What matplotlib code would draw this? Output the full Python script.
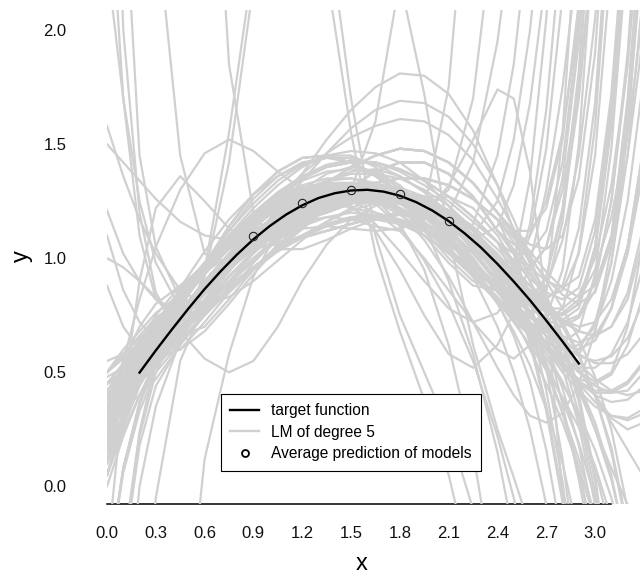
"""
plot.py

Bias/variance illustration: degree-5 linear models fitted to noisy samples
of a target function, drawn in light grey, with the target in black and the
average prediction of the models at a few x positions.
"""
import matplotlib
matplotlib.use('Agg')
import matplotlib.pyplot as plt
from matplotlib.lines import Line2D

plt.rcParams['font.family'] = ['Liberation Sans', 'DejaVu Sans']

x_grid = [0.00, 0.10, 0.20, 0.30, 0.45, 0.60, 0.75, 0.90, 1.05, 1.20, 1.35, 1.50, 1.65,
          1.80, 1.95, 2.10, 2.25, 2.40, 2.50, 2.60, 2.70, 2.80, 2.90, 3.00, 3.10, 3.20, 3.30]

# fitted models (LM of degree 5), one list per model, values at x_grid
lm_01 = [0.30, 0.40, 0.50, 0.60, 0.73, 0.86, 0.98, 1.08, 1.17, 1.23, 1.28, 1.30, 1.30, 1.27, 1.23, 1.16, 1.08, 0.98, 0.90, 0.84, 0.82, 0.88, 1.13, 1.68, 2.68, 4.18, 5.98]
lm_02 = [0.05, 0.28, 0.48, 0.64, 0.80, 0.95, 1.08, 1.19, 1.28, 1.35, 1.40, 1.42, 1.42, 1.39, 1.34, 1.27, 1.18, 1.07, 0.97, 0.85, 0.71, 0.52, 0.27, -0.08, -0.63, -1.43, -2.43]
lm_03 = [0.45, 0.49, 0.54, 0.59, 0.64, 0.76, 0.87, 0.96, 1.04, 1.10, 1.15, 1.18, 1.18, 1.16, 1.12, 1.06, 0.98, 0.88, 0.80, 0.72, 0.66, 0.63, 0.68, 0.93, 1.48, 2.38, 3.88]
lm_04 = [0.15, 0.38, 0.56, 0.70, 0.80, 0.95, 1.08, 1.18, 1.26, 1.31, 1.33, 1.32, 1.28, 1.22, 1.14, 1.04, 0.93, 0.81, 0.66, 0.46, 0.16, -0.24, -0.79, -1.59, -2.59, -3.79, -5.19]
lm_05 = [-0.40, 0.08, 0.36, 0.53, 0.66, 0.78, 0.89, 0.99, 1.08, 1.16, 1.23, 1.29, 1.33, 1.35, 1.35, 1.32, 1.26, 1.17, 1.12, 1.12, 1.22, 1.52, 2.12, 3.17, 4.67, 6.67, 9.17]
lm_06 = [0.50, 0.60, 0.68, 0.76, 0.84, 0.98, 1.08, 1.13, 1.15, 1.17, 1.20, 1.24, 1.27, 1.28, 1.26, 1.21, 1.12, 1.00, 0.91, 0.82, 0.73, 0.65, 0.58, 0.54, 0.54, 0.58, 0.67]
lm_07 = [0.22, 0.40, 0.55, 0.67, 0.78, 0.97, 1.14, 1.28, 1.38, 1.44, 1.45, 1.42, 1.36, 1.28, 1.19, 1.09, 0.98, 0.87, 0.77, 0.65, 0.51, 0.32, 0.07, -0.28, -0.83, -1.63, -2.63]
lm_08 = [0.30, 0.42, 0.52, 0.61, 0.70, 0.80, 0.88, 0.96, 1.04, 1.13, 1.22, 1.31, 1.38, 1.42, 1.42, 1.37, 1.27, 1.12, 1.06, 1.10, 1.25, 1.55, 2.05, 2.80, 3.80, 5.10, 6.70]
lm_09 = [0.05, 0.30, 0.50, 0.64, 0.76, 0.90, 0.99, 1.04, 1.07, 1.09, 1.12, 1.15, 1.18, 1.20, 1.20, 1.17, 1.10, 1.00, 0.91, 0.81, 0.70, 0.58, 0.45, 0.28, 0.05, -0.30, -0.80]
lm_10 = [0.45, 0.50, 0.56, 0.62, 0.68, 0.80, 0.92, 1.03, 1.14, 1.24, 1.33, 1.40, 1.45, 1.48, 1.47, 1.42, 1.33, 1.20, 1.12, 1.03, 0.94, 0.87, 0.83, 0.88, 1.10, 1.70, 2.60]
lm_11 = [-1.20, -0.30, 0.22, 0.50, 0.72, 0.85, 0.97, 1.07, 1.16, 1.23, 1.28, 1.31, 1.31, 1.29, 1.25, 1.18, 1.09, 0.98, 0.83, 0.63, 0.33, -0.07, -0.62, -1.42, -2.42, -3.62, -5.02]
lm_12 = [0.15, 0.38, 0.56, 0.70, 0.81, 0.96, 1.09, 1.20, 1.29, 1.36, 1.41, 1.43, 1.42, 1.38, 1.32, 1.25, 1.16, 1.07, 0.99, 0.91, 0.85, 0.82, 0.87, 1.12, 1.67, 2.57, 4.07]
lm_13 = [-0.40, 0.06, 0.33, 0.50, 0.63, 0.75, 0.86, 0.95, 1.03, 1.09, 1.14, 1.17, 1.18, 1.17, 1.13, 1.07, 0.98, 0.88, 0.78, 0.66, 0.52, 0.33, 0.08, -0.27, -0.82, -1.62, -2.62]
lm_14 = [0.50, 0.58, 0.66, 0.74, 0.81, 0.95, 1.07, 1.17, 1.25, 1.30, 1.33, 1.33, 1.30, 1.24, 1.16, 1.05, 0.93, 0.81, 0.76, 0.76, 0.86, 1.16, 1.76, 2.81, 4.31, 6.31, 8.81]
lm_15 = [0.22, 0.35, 0.46, 0.56, 0.66, 0.78, 0.89, 0.99, 1.08, 1.16, 1.23, 1.29, 1.33, 1.35, 1.35, 1.32, 1.26, 1.17, 1.02, 0.82, 0.52, 0.12, -0.43, -1.23, -2.23, -3.43, -4.83]
lm_16 = [0.30, 0.45, 0.60, 0.72, 0.82, 0.97, 1.07, 1.12, 1.15, 1.18, 1.21, 1.25, 1.28, 1.29, 1.27, 1.21, 1.12, 1.00, 0.94, 0.96, 1.05, 1.30, 1.75, 2.45, 3.40, 4.60, 6.00]
lm_17 = [0.05, 0.30, 0.50, 0.65, 0.78, 0.97, 1.14, 1.28, 1.38, 1.44, 1.45, 1.42, 1.36, 1.28, 1.19, 1.09, 0.98, 0.87, 0.78, 0.69, 0.60, 0.52, 0.45, 0.41, 0.41, 0.45, 0.54]
lm_18 = [0.45, 0.50, 0.57, 0.63, 0.70, 0.80, 0.88, 0.96, 1.04, 1.13, 1.22, 1.31, 1.38, 1.42, 1.42, 1.37, 1.27, 1.12, 1.03, 0.93, 0.82, 0.70, 0.57, 0.40, 0.17, -0.18, -0.68]
lm_19 = [0.15, 0.37, 0.54, 0.66, 0.76, 0.90, 0.99, 1.04, 1.07, 1.09, 1.12, 1.15, 1.18, 1.20, 1.20, 1.17, 1.10, 1.00, 0.95, 0.95, 1.05, 1.35, 1.95, 3.00, 4.50, 6.50, 9.00]
lm_20 = [-0.40, 0.08, 0.36, 0.54, 0.68, 0.80, 0.92, 1.03, 1.14, 1.24, 1.33, 1.40, 1.45, 1.48, 1.47, 1.42, 1.33, 1.20, 1.10, 0.98, 0.84, 0.65, 0.40, 0.05, -0.50, -1.30, -2.30]
lm_21 = [0.50, 0.57, 0.63, 0.68, 0.74, 0.87, 0.99, 1.09, 1.18, 1.24, 1.29, 1.31, 1.31, 1.28, 1.24, 1.17, 1.09, 0.98, 0.90, 0.82, 0.76, 0.73, 0.78, 1.03, 1.58, 2.48, 3.98]
lm_22 = [0.22, 0.40, 0.56, 0.69, 0.80, 0.95, 1.08, 1.19, 1.28, 1.35, 1.40, 1.42, 1.42, 1.39, 1.34, 1.27, 1.18, 1.07, 0.92, 0.72, 0.42, 0.02, -0.53, -1.33, -2.33, -3.53, -4.93]
lm_23 = [-1.20, -0.32, 0.18, 0.44, 0.62, 0.75, 0.86, 0.96, 1.04, 1.10, 1.15, 1.18, 1.19, 1.17, 1.13, 1.07, 0.99, 0.88, 0.80, 0.74, 0.72, 0.78, 1.03, 1.58, 2.58, 4.08, 5.88]
lm_24 = [0.30, 0.46, 0.60, 0.71, 0.80, 0.94, 1.07, 1.17, 1.25, 1.30, 1.32, 1.31, 1.27, 1.21, 1.13, 1.03, 0.92, 0.81, 0.72, 0.62, 0.51, 0.39, 0.26, 0.09, -0.14, -0.49, -0.99]
lm_25 = [0.05, 0.26, 0.44, 0.56, 0.66, 0.78, 0.89, 0.99, 1.08, 1.16, 1.23, 1.29, 1.33, 1.35, 1.35, 1.32, 1.26, 1.17, 1.09, 1.00, 0.91, 0.84, 0.80, 0.85, 1.07, 1.67, 2.57]
lm_26 = [0.45, 0.54, 0.64, 0.73, 0.82, 0.98, 1.08, 1.13, 1.15, 1.17, 1.20, 1.24, 1.27, 1.28, 1.26, 1.21, 1.12, 1.00, 0.85, 0.65, 0.35, -0.05, -0.60, -1.40, -2.40, -3.60, -5.00]
lm_27 = [0.15, 0.37, 0.55, 0.67, 0.78, 0.96, 1.12, 1.26, 1.36, 1.42, 1.44, 1.42, 1.37, 1.29, 1.20, 1.10, 0.99, 0.87, 0.80, 0.80, 0.88, 1.08, 1.45, 2.05, 2.90, 4.00, 5.50]
lm_28 = [-0.40, 0.08, 0.37, 0.56, 0.70, 0.80, 0.88, 0.96, 1.04, 1.13, 1.22, 1.31, 1.38, 1.42, 1.42, 1.37, 1.27, 1.12, 1.02, 0.90, 0.76, 0.57, 0.32, -0.03, -0.58, -1.38, -2.38]
lm_29 = [0.50, 0.58, 0.65, 0.71, 0.76, 0.90, 0.99, 1.04, 1.07, 1.09, 1.12, 1.15, 1.18, 1.20, 1.20, 1.17, 1.10, 1.00, 0.92, 0.84, 0.78, 0.75, 0.80, 1.05, 1.60, 2.50, 4.00]
lm_30 = [0.22, 0.36, 0.48, 0.58, 0.68, 0.80, 0.92, 1.03, 1.14, 1.24, 1.33, 1.40, 1.45, 1.48, 1.47, 1.42, 1.33, 1.20, 1.11, 1.01, 0.90, 0.78, 0.65, 0.48, 0.25, -0.10, -0.60]
lm_31 = [0.30, 0.46, 0.60, 0.71, 0.80, 0.95, 1.08, 1.19, 1.28, 1.35, 1.40, 1.42, 1.42, 1.39, 1.34, 1.27, 1.18, 1.07, 1.02, 1.02, 1.12, 1.42, 2.02, 3.07, 4.57, 6.57, 9.07]
lm_32 = [0.05, 0.24, 0.40, 0.53, 0.64, 0.76, 0.87, 0.96, 1.04, 1.10, 1.15, 1.18, 1.18, 1.16, 1.12, 1.06, 0.98, 0.88, 0.79, 0.70, 0.61, 0.53, 0.46, 0.42, 0.42, 0.46, 0.55]
lm_33 = [0.45, 0.53, 0.63, 0.72, 0.80, 0.95, 1.08, 1.18, 1.26, 1.31, 1.33, 1.32, 1.28, 1.22, 1.14, 1.04, 0.93, 0.81, 0.78, 0.80, 0.92, 1.20, 1.70, 2.45, 3.50, 4.90, 6.60]
lm_34 = [0.15, 0.32, 0.47, 0.57, 0.66, 0.78, 0.89, 0.99, 1.08, 1.16, 1.23, 1.29, 1.33, 1.35, 1.35, 1.32, 1.26, 1.17, 1.07, 0.95, 0.81, 0.62, 0.37, 0.02, -0.53, -1.33, -2.33]
lm_35 = [0.22, 0.42, 0.59, 0.72, 0.82, 0.98, 1.08, 1.13, 1.15, 1.17, 1.20, 1.24, 1.27, 1.28, 1.26, 1.21, 1.12, 1.00, 0.92, 0.84, 0.78, 0.75, 0.80, 1.05, 1.60, 2.50, 4.00]
lm_36 = [-1.20, -0.28, 0.24, 0.55, 0.78, 0.97, 1.14, 1.28, 1.38, 1.44, 1.45, 1.42, 1.36, 1.28, 1.19, 1.09, 0.98, 0.87, 0.82, 0.82, 0.92, 1.22, 1.82, 2.87, 4.37, 6.37, 8.87]
lm_37 = [0.30, 0.44, 0.57, 0.67, 0.76, 0.90, 0.99, 1.04, 1.07, 1.09, 1.12, 1.15, 1.18, 1.20, 1.20, 1.17, 1.10, 1.00, 0.85, 0.65, 0.35, -0.05, -0.60, -1.40, -2.40, -3.60, -5.00]
lm_38 = [0.50, 0.56, 0.61, 0.65, 0.68, 0.80, 0.92, 1.03, 1.14, 1.24, 1.33, 1.40, 1.45, 1.48, 1.47, 1.42, 1.33, 1.20, 1.12, 1.06, 1.04, 1.10, 1.35, 1.90, 2.90, 4.40, 6.20]
lm_39 = [0.45, 0.50, 0.57, 0.65, 0.73, 0.86, 0.98, 1.08, 1.17, 1.23, 1.28, 1.30, 1.30, 1.27, 1.23, 1.16, 1.08, 0.98, 0.88, 0.76, 0.62, 0.43, 0.18, -0.17, -0.72, -1.52, -2.52]
lm_40 = [0.05, 0.27, 0.45, 0.60, 0.70, 0.80, 0.88, 0.96, 1.04, 1.13, 1.22, 1.31, 1.38, 1.42, 1.42, 1.37, 1.27, 1.12, 1.04, 0.96, 0.90, 0.87, 0.92, 1.17, 1.72, 2.62, 4.12]
lm_41 = [0.35, 0.55, 0.70, 0.80, 0.88, 0.94, 1.01, 1.10, 1.20, 1.30, 1.37, 1.40, 1.38, 1.32, 1.22, 1.12, 1.03, 0.96, 0.92, 0.88, 0.82, 0.72, 0.58, 0.40, 0.15, -0.20, -0.65]
lm_42 = [0.10, 0.30, 0.48, 0.62, 0.80, 0.96, 1.10, 1.20, 1.26, 1.28, 1.27, 1.25, 1.24, 1.25, 1.27, 1.27, 1.22, 1.10, 0.98, 0.84, 0.70, 0.60, 0.58, 0.68, 0.98, 1.55, 2.50]
lm_43 = [0.26, 0.38, 0.50, 0.61, 0.76, 0.90, 1.02, 1.13, 1.22, 1.29, 1.34, 1.37, 1.37, 1.35, 1.30, 1.23, 1.13, 1.01, 0.92, 0.83, 0.76, 0.72, 0.75, 0.90, 1.25, 1.90, 2.90]
lm_44 = [0.40, 0.47, 0.55, 0.63, 0.75, 0.86, 0.96, 1.04, 1.11, 1.17, 1.21, 1.24, 1.25, 1.24, 1.20, 1.14, 1.05, 0.94, 0.85, 0.76, 0.66, 0.55, 0.42, 0.25, 0.03, -0.28, -0.70]
lm_45 = [0.28, 0.42, 0.55, 0.66, 0.80, 0.93, 1.05, 1.15, 1.23, 1.29, 1.32, 1.32, 1.29, 1.22, 1.12, 1.00, 0.90, 0.86, 0.92, 1.10, 1.48, 2.15, 3.10, 4.40, 6.00, 8.00, 10.5]
lm_46 = [0.35, 0.48, 0.60, 0.70, 0.83, 0.95, 1.06, 1.15, 1.22, 1.27, 1.30, 1.30, 1.27, 1.20, 1.10, 0.98, 0.88, 0.86, 0.98, 1.35, 2.05, 3.10, 4.50, 6.20, 8.30, 11.0, 14.0]
lm_47 = [0.20, 0.36, 0.50, 0.62, 0.77, 0.90, 1.02, 1.12, 1.19, 1.24, 1.26, 1.25, 1.20, 1.12, 1.00, 0.86, 0.72, 0.60, 0.56, 0.62, 0.85, 1.55, 2.60, 4.00, 6.00, 8.50, 11.5]
lm_48 = [0.42, 0.52, 0.62, 0.71, 0.84, 0.96, 1.07, 1.16, 1.24, 1.30, 1.34, 1.35, 1.33, 1.28, 1.20, 1.09, 0.96, 0.82, 0.74, 0.70, 0.74, 0.95, 1.50, 2.50, 4.00, 6.00, 8.50]
lm_49 = [0.32, 0.45, 0.57, 0.68, 0.82, 0.95, 1.07, 1.17, 1.25, 1.30, 1.32, 1.30, 1.24, 1.14, 0.99, 0.80, 0.55, 0.22, -0.05, -0.40, -0.85, -1.40, -2.10, -2.90, -3.90, -5.00, -6.40]
lm_50 = [0.18, 0.35, 0.50, 0.63, 0.79, 0.94, 1.07, 1.18, 1.27, 1.34, 1.38, 1.39, 1.37, 1.31, 1.22, 1.09, 0.92, 0.70, 0.50, 0.25, -0.08, -0.50, -1.00, -1.70, -2.50, -3.50, -4.70]
lm_51 = [0.40, 0.50, 0.60, 0.70, 0.84, 0.97, 1.09, 1.19, 1.27, 1.32, 1.35, 1.35, 1.32, 1.26, 1.18, 1.08, 0.95, 0.80, 0.68, 0.53, 0.34, 0.10, -0.22, -0.62, -1.15, -1.80, -2.60]
lm_52 = [0.12, 0.32, 0.52, 0.68, 0.87, 1.03, 1.17, 1.28, 1.36, 1.41, 1.44, 1.44, 1.41, 1.36, 1.29, 1.20, 1.10, 0.99, 0.92, 0.86, 0.83, 0.86, 1.02, 1.45, 2.30, 3.60, 5.50]
lm_53 = [0.38, 0.44, 0.50, 0.57, 0.67, 0.77, 0.87, 0.96, 1.04, 1.10, 1.15, 1.17, 1.17, 1.15, 1.10, 1.03, 0.94, 0.83, 0.75, 0.66, 0.56, 0.45, 0.32, 0.16, -0.05, -0.32, -0.70]
lm_54 = [0.25, 0.45, 0.62, 0.75, 0.88, 0.97, 1.04, 1.11, 1.19, 1.27, 1.34, 1.38, 1.39, 1.36, 1.29, 1.19, 1.07, 0.95, 0.88, 0.82, 0.78, 0.78, 0.84, 1.00, 1.32, 1.85, 2.70]
lm_55 = [0.48, 0.52, 0.58, 0.64, 0.74, 0.85, 0.97, 1.08, 1.18, 1.26, 1.31, 1.33, 1.32, 1.27, 1.19, 1.09, 0.98, 0.87, 0.80, 0.74, 0.70, 0.70, 0.74, 0.86, 1.08, 1.45, 2.00]
lm_56 = [0.30, 0.46, 0.60, 0.72, 0.86, 0.98, 1.09, 1.18, 1.24, 1.27, 1.27, 1.23, 1.15, 1.03, 0.90, 0.78, 0.72, 0.76, 0.88, 1.15, 1.65, 2.45, 3.60, 5.10, 7.00, 9.50, 12.5]
lm_57 = [0.30, 0.42, 0.55, 0.67, 0.83, 0.98, 1.12, 1.24, 1.34, 1.41, 1.45, 1.45, 1.40, 1.30, 1.14, 0.90, 0.58, 0.15, -0.22, -0.65, -1.15, -1.75, -2.45, -3.30, -4.30, -5.40, -6.70]
lm_58 = [0.38, 0.50, 0.62, 0.72, 0.86, 0.98, 1.09, 1.18, 1.25, 1.30, 1.33, 1.33, 1.31, 1.26, 1.19, 1.12, 1.08, 1.14, 1.32, 1.68, 2.25, 3.10, 4.20, 5.60, 7.30, 9.30, 11.8]
lm_59 = [0.10, 0.28, 0.45, 0.59, 0.75, 0.89, 1.01, 1.11, 1.19, 1.24, 1.27, 1.28, 1.27, 1.24, 1.18, 1.11, 1.02, 0.91, 0.84, 0.76, 0.69, 0.62, 0.57, 0.55, 0.57, 0.65, 0.82]
lm_60 = [0.45, 0.48, 0.52, 0.58, 0.68, 0.79, 0.90, 1.00, 1.08, 1.14, 1.18, 1.20, 1.19, 1.16, 1.10, 1.02, 0.92, 0.81, 0.73, 0.66, 0.60, 0.57, 0.60, 0.72, 0.98, 1.45, 2.20]
lm_61 = [0.30, 0.44, 0.57, 0.68, 0.83, 0.97, 1.10, 1.22, 1.32, 1.40, 1.45, 1.47, 1.46, 1.42, 1.34, 1.23, 1.09, 0.93, 0.81, 0.68, 0.54, 0.38, 0.19, -0.05, -0.35, -0.75, -1.25]
lm_62 = [0.00, 0.22, 0.40, 0.55, 0.73, 0.88, 1.00, 1.10, 1.18, 1.25, 1.30, 1.33, 1.33, 1.30, 1.25, 1.17, 1.07, 0.95, 0.87, 0.79, 0.73, 0.70, 0.74, 0.90, 1.25, 1.85, 2.80]
lm_63 = [0.55, 0.58, 0.62, 0.67, 0.76, 0.86, 0.96, 1.06, 1.14, 1.21, 1.26, 1.29, 1.30, 1.28, 1.23, 1.15, 1.04, 0.90, 0.79, 0.66, 0.51, 0.33, 0.12, -0.13, -0.45, -0.85, -1.35]
lm_64 = [0.33, 0.47, 0.60, 0.71, 0.85, 0.97, 1.07, 1.15, 1.21, 1.25, 1.27, 1.27, 1.25, 1.21, 1.15, 1.07, 0.97, 0.85, 0.77, 0.68, 0.58, 0.46, 0.30, 0.08, -0.22, -0.62, -1.15]
lm_65 = [0.33, 0.45, 0.57, 0.68, 0.82, 0.95, 1.06, 1.16, 1.23, 1.28, 1.30, 1.29, 1.25, 1.19, 1.12, 1.08, 1.15, 1.45, 1.85, 2.50, 3.40, 4.60, 6.00, 7.70, 9.60, 12.0, 15.0]
lm_66 = [0.42, 0.50, 0.59, 0.68, 0.81, 0.93, 1.04, 1.14, 1.22, 1.28, 1.31, 1.31, 1.28, 1.22, 1.17, 1.20, 1.42, 1.95, 2.50, 3.30, 4.30, 5.50, 7.00, 8.70, 10.6, 13.0, 16.0]
# models that wander far from the target
lm_67 = [0.30, 0.40, 0.49, 0.58, 0.70, 0.82, 0.95, 1.08, 1.22, 1.37, 1.52, 1.65, 1.75, 1.81, 1.80, 1.72, 1.56, 1.32, 1.12, 0.90, 0.65, 0.36, 0.03, -0.35, -0.80, -1.30, -2.00]
lm_68 = [0.40, 0.45, 0.51, 0.58, 0.69, 0.81, 0.94, 1.07, 1.20, 1.34, 1.46, 1.57, 1.65, 1.69, 1.68, 1.62, 1.50, 1.32, 1.17, 1.00, 0.82, 0.63, 0.44, 0.25, 0.08, -0.08, -0.25]
lm_69 = [0.35, 0.45, 0.54, 0.64, 0.77, 0.90, 1.02, 1.14, 1.26, 1.37, 1.46, 1.53, 1.58, 1.61, 1.60, 1.54, 1.43, 1.26, 1.13, 0.98, 0.82, 0.66, 0.52, 0.40, 0.30, 0.25, 0.28]
lm_70 = [0.30, 0.40, 0.50, 0.60, 0.74, 0.86, 0.96, 1.04, 1.10, 1.13, 1.14, 1.13, 1.12, 1.13, 1.18, 1.32, 1.52, 1.74, 1.70, 1.38, 0.80, -0.05, -1.10, -2.40, -4.00, -6.00, -8.50]
lm_71 = [0.20, 0.55, 0.82, 1.05, 1.30, 1.46, 1.52, 1.47, 1.38, 1.30, 1.25, 1.22, 1.20, 1.17, 1.12, 1.04, 0.95, 0.86, 0.81, 0.77, 0.75, 0.76, 0.82, 0.95, 1.18, 1.55, 2.10]
lm_72 = [-0.30, 0.40, 0.90, 1.22, 1.36, 1.25, 1.13, 1.06, 1.06, 1.10, 1.16, 1.21, 1.24, 1.24, 1.20, 1.12, 1.00, 0.86, 0.77, 0.69, 0.63, 0.60, 0.62, 0.70, 0.90, 1.25, 1.80]
lm_73 = [1.50, 1.42, 1.34, 1.26, 1.16, 1.10, 1.08, 1.10, 1.14, 1.19, 1.24, 1.27, 1.29, 1.28, 1.24, 1.17, 1.06, 0.92, 0.82, 0.72, 0.62, 0.53, 0.47, 0.45, 0.49, 0.62, 0.85]
lm_74 = [1.58, 1.36, 1.17, 1.02, 0.86, 0.80, 0.83, 0.90, 0.99, 1.08, 1.16, 1.22, 1.26, 1.27, 1.25, 1.20, 1.12, 1.02, 0.94, 0.86, 0.79, 0.73, 0.70, 0.72, 0.82, 1.05, 1.45]
lm_75 = [1.21, 1.02, 0.90, 0.82, 0.76, 0.80, 0.89, 0.99, 1.09, 1.17, 1.23, 1.27, 1.28, 1.27, 1.23, 1.17, 1.09, 0.99, 0.92, 0.85, 0.78, 0.72, 0.68, 0.66, 0.70, 0.85, 1.15]
lm_76 = [1.10, 0.86, 0.72, 0.64, 0.60, 0.68, 0.80, 0.93, 1.05, 1.15, 1.22, 1.27, 1.29, 1.28, 1.24, 1.17, 1.07, 0.95, 0.86, 0.76, 0.66, 0.57, 0.50, 0.44, 0.41, 0.42, 0.50]
lm_77 = [0.88, 0.70, 0.60, 0.56, 0.60, 0.72, 0.85, 0.98, 1.09, 1.18, 1.25, 1.30, 1.32, 1.31, 1.27, 1.20, 1.10, 0.97, 0.87, 0.77, 0.66, 0.55, 0.45, 0.37, 0.31, 0.29, 0.32]
lm_78 = [2.30, 1.70, 1.25, 0.98, 0.78, 0.80, 0.90, 1.00, 1.10, 1.18, 1.24, 1.28, 1.30, 1.29, 1.25, 1.18, 1.08, 0.95, 0.85, 0.75, 0.66, 0.57, 0.50, 0.46, 0.50, 0.70, 1.10]
lm_79 = [2.80, 1.70, 1.10, 0.82, 0.72, 0.78, 0.90, 1.02, 1.12, 1.20, 1.26, 1.29, 1.30, 1.28, 1.23, 1.16, 1.06, 0.94, 0.85, 0.76, 0.68, 0.62, 0.60, 0.64, 0.78, 1.05, 1.50]
lm_80 = [4.00, 2.00, 1.20, 0.85, 0.66, 0.70, 0.82, 0.95, 1.06, 1.15, 1.22, 1.26, 1.28, 1.27, 1.24, 1.18, 1.09, 0.98, 0.89, 0.80, 0.71, 0.62, 0.54, 0.47, 0.42, 0.40, 0.42]
lm_81 = [5.00, 2.70, 1.45, 1.05, 0.82, 0.80, 0.85, 0.95, 1.05, 1.14, 1.21, 1.26, 1.28, 1.28, 1.25, 1.19, 1.10, 0.98, 0.89, 0.80, 0.72, 0.66, 0.63, 0.66, 0.78, 1.02, 1.40]
lm_82 = [9.00, 6.00, 3.80, 2.50, 1.45, 1.02, 0.98, 1.04, 1.11, 1.17, 1.22, 1.26, 1.28, 1.28, 1.26, 1.21, 1.14, 1.04, 0.96, 0.88, 0.80, 0.73, 0.68, 0.66, 0.70, 0.82, 1.10]
lm_83 = [20.0, 16.0, 12.0, 9.00, 6.00, 3.60, 1.85, 1.20, 1.04, 1.04, 1.08, 1.13, 1.17, 1.19, 1.18, 1.14, 1.07, 0.97, 0.89, 0.81, 0.72, 0.62, 0.51, 0.40, 0.28, 0.16, 0.04]
lm_84 = [0.35, 0.40, 0.46, 0.52, 0.65, 0.92, 1.42, 2.20, 2.65, 2.70, 2.25, 1.55, 1.02, 0.68, 0.38, 0.05, -0.40, -1.00, -1.50, -2.10, -2.90, -3.80, -4.90, -6.00, -7.50, -9.00, -11.0]
lm_85 = [0.30, 0.34, 0.40, 0.47, 0.62, 0.95, 1.55, 2.30, 2.90, 3.00, 2.50, 1.70, 1.10, 0.75, 0.50, 0.25, -0.10, -0.60, -1.00, -1.50, -2.10, -2.80, -3.60, -4.50, -5.50, -6.60, -8.00]
lm_86 = [0.40, 0.46, 0.52, 0.58, 0.68, 0.80, 0.92, 1.03, 1.12, 1.18, 1.22, 1.30, 1.60, 2.22, 1.72, 1.10, 0.62, 0.25, 0.04, -0.18, -0.45, -0.80, -1.20, -1.70, -2.30, -3.00, -3.80]
lm_87 = [0.25, 0.36, 0.47, 0.58, 0.72, 0.85, 0.96, 1.05, 1.12, 1.16, 1.18, 1.17, 1.14, 1.12, 1.22, 1.75, 3.00, 5.00, 7.00, 9.00, 12.0, 15.0, 18.0, 22.0, 26.0, 30.0, 35.0]
lm_88 = [0.38, 0.45, 0.53, 0.62, 0.74, 0.85, 0.95, 1.04, 1.12, 1.19, 1.24, 1.27, 1.27, 1.25, 1.22, 1.30, 1.70, 2.60, 3.60, 5.00, 7.00, 9.00, 12.0, 15.0, 18.0, 22.0, 26.0]
lm_89 = [0.30, 0.41, 0.52, 0.62, 0.75, 0.87, 0.98, 1.08, 1.17, 1.24, 1.29, 1.31, 1.30, 1.26, 1.20, 1.13, 1.10, 1.25, 1.52, 2.00, 2.70, 3.60, 4.80, 6.30, 8.00, 10.0, 12.0]
lm_90 = [0.36, 0.44, 0.52, 0.61, 0.74, 0.87, 0.99, 1.10, 1.20, 1.27, 1.31, 1.31, 1.26, 1.15, 0.95, 0.62, 0.15, -0.50, -1.00, -1.60, -2.30, -3.10, -4.00, -5.00, -6.00, -7.00, -8.00]
lm_91 = [1.00, 0.96, 0.90, 0.83, 0.68, 0.56, 0.50, 0.55, 0.70, 0.90, 1.06, 1.17, 1.23, 1.25, 1.22, 1.15, 1.04, 0.90, 0.81, 0.72, 0.63, 0.54, 0.46, 0.40, 0.37, 0.38, 0.44]
lm_92 = [0.30, 0.43, 0.55, 0.66, 0.80, 0.93, 1.05, 1.15, 1.22, 1.26, 1.27, 1.23, 1.12, 0.95, 0.75, 0.58, 0.52, 0.62, 0.76, 0.98, 1.30, 1.75, 2.35, 3.10, 4.00, 5.00, 6.50]
lm_93 = [0.40, 0.48, 0.56, 0.64, 0.76, 0.88, 0.99, 1.09, 1.18, 1.25, 1.29, 1.30, 1.27, 1.20, 1.08, 0.92, 0.72, 0.52, 0.40, 0.31, 0.28, 0.32, 0.45, 0.68, 1.05, 1.60, 2.40]
lm_94 = [0.28, 0.39, 0.50, 0.59, 0.72, 0.84, 0.95, 1.05, 1.13, 1.20, 1.25, 1.28, 1.28, 1.26, 1.21, 1.13, 1.02, 0.89, 0.80, 0.70, 0.60, 0.50, 0.42, 0.35, 0.31, 0.30, 0.34]
lm_95 = [-8.00, -6.00, -4.20, -2.60, -0.90, 0.12, 0.58, 0.92, 1.12, 1.22, 1.27, 1.28, 1.26, 1.22, 1.16, 1.08, 0.98, 0.86, 0.78, 0.70, 0.62, 0.56, 0.52, 0.52, 0.58, 0.72, 0.98]
lm_96 = [-3.00, -1.80, -0.80, -0.05, 0.55, 0.80, 0.95, 1.06, 1.15, 1.22, 1.27, 1.30, 1.30, 1.28, 1.23, 1.16, 1.06, 0.94, 0.85, 0.76, 0.68, 0.62, 0.60, 0.64, 0.78, 1.05, 1.50]
lm_97 = [-1.80, -0.70, 0.00, 0.35, 0.64, 0.82, 0.96, 1.07, 1.16, 1.23, 1.28, 1.30, 1.30, 1.27, 1.21, 1.12, 1.00, 0.86, 0.74, 0.60, 0.45, 0.28, 0.08, -0.15, -0.45, -0.80, -1.20]

lm_models = [lm_01, lm_02, lm_03, lm_04, lm_05, lm_06, lm_07, lm_08, lm_09, lm_10,
             lm_11, lm_12, lm_13, lm_14, lm_15, lm_16, lm_17, lm_18, lm_19, lm_20,
             lm_21, lm_22, lm_23, lm_24, lm_25, lm_26, lm_27, lm_28, lm_29, lm_30,
             lm_31, lm_32, lm_33, lm_34, lm_35, lm_36, lm_37, lm_38, lm_39, lm_40,
             lm_41, lm_42, lm_43, lm_44, lm_45, lm_46, lm_47, lm_48, lm_49, lm_50,
             lm_51, lm_52, lm_53, lm_54, lm_55, lm_56, lm_57, lm_58, lm_59, lm_60,
             lm_61, lm_62, lm_63, lm_64, lm_65, lm_66, lm_67, lm_68, lm_69, lm_70,
             lm_71, lm_72, lm_73, lm_74, lm_75, lm_76, lm_77, lm_78, lm_79, lm_80,
             lm_81, lm_82, lm_83, lm_84, lm_85, lm_86, lm_87, lm_88, lm_89, lm_90,
             lm_91, lm_92, lm_93, lm_94, lm_95, lm_96, lm_97]

# target function, read at steps of 0.1 from 0.2 to 2.9
target_x = [0.2, 0.3, 0.4, 0.5, 0.6, 0.7, 0.8, 0.9, 1.0, 1.1, 1.2, 1.3, 1.4, 1.5,
            1.6, 1.7, 1.8, 1.9, 2.0, 2.1, 2.2, 2.3, 2.4, 2.5, 2.6, 2.7, 2.8, 2.9]
target_y = [0.499, 0.596, 0.689, 0.779, 0.865, 0.944, 1.017, 1.083, 1.141, 1.191,
            1.232, 1.264, 1.285, 1.297, 1.300, 1.292, 1.274, 1.246, 1.209, 1.163,
            1.108, 1.046, 0.975, 0.898, 0.816, 0.727, 0.635, 0.539]

# average prediction of the models
avg_x = [0.9, 1.2, 1.5, 1.8, 2.1]
avg_y = [1.098, 1.244, 1.300, 1.282, 1.164]

x_ticks = [0.0, 0.3, 0.6, 0.9, 1.2, 1.5, 1.8, 2.1, 2.4, 2.7, 3.0]
y_ticks = [0.0, 0.5, 1.0, 1.5, 2.0]

# horizontal base line drawn under the models
base_x = [0.0, 3.1]

x_range = (0.0, 3.276)
y_range = (-0.077, 2.088)

GREY = '#cfd0cf'

fig = plt.figure(figsize=(6.41, 5.74), dpi=100)
ax = fig.add_axes([107 / 641, 70 / 574, 533 / 641, 494 / 574])

ax.plot(base_x, [y_range[0], y_range[0]], color='black', lw=1.1,
        clip_on=False, zorder=1)
for model in lm_models:
    ax.plot(x_grid, model, color=GREY, lw=1.6, solid_joinstyle='round', zorder=2)
ax.plot(target_x, target_y, color='black', lw=1.7, zorder=3)
ax.plot(avg_x, avg_y, ls='none', marker='o', ms=6, mfc='none',
        mec='#222222', mew=0.8, zorder=4)

ax.set_xlim(*x_range)
ax.set_ylim(*y_range)
for side in ax.spines.values():
    side.set_visible(False)
ax.set_xticks(x_ticks)
ax.set_xticklabels(['%.1f' % v for v in x_ticks])
ax.set_yticks(y_ticks)
ax.set_yticklabels(['%.1f' % v for v in y_ticks])
ax.tick_params(axis='both', length=0, labelsize=12, colors='#111111')
ax.tick_params(axis='x', pad=16)
ax.tick_params(axis='y', pad=29)

ax.set_xlabel('x', fontsize=17)
ax.xaxis.set_label_coords(0.478, -0.121)
ax.xaxis.label.set_va('center')
ax.set_ylabel('y', fontsize=17)
ax.yaxis.set_label_coords(-0.159, 0.502)
ax.yaxis.label.set_va('center')

handles = [Line2D([], [], color='black', lw=1.7),
           Line2D([], [], color=GREY, lw=1.7),
           Line2D([], [], ls='none', marker='o', ms=5, mfc='none',
                  mec='black', mew=1.3)]
labels = ['target function', 'LM of degree 5', 'Average prediction of models']
leg = ax.legend(handles, labels, loc='upper left',
                bbox_to_anchor=(221 / 641, 1 - 394 / 574),
                bbox_transform=fig.transFigure, fontsize=11.2,
                frameon=True, fancybox=False, framealpha=1,
                edgecolor='black', handlelength=1.85, handletextpad=0.75,
                labelspacing=0.42, borderpad=0.6, borderaxespad=0)
leg.get_frame().set_linewidth(0.8)

fig.savefig('out.png', dpi=100)
